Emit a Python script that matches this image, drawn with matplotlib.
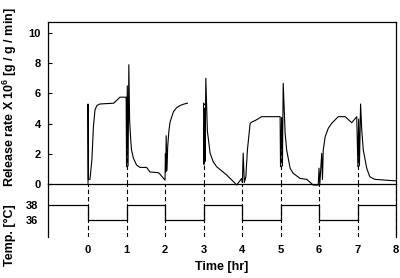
import numpy as np
import matplotlib
matplotlib.use('Agg')
import matplotlib.pyplot as plt

# release rate, first run (0 - 2.6 hr)
time_a = [0.00, 0.00, 0.01, 0.03, 0.05, 0.10, 0.14, 0.18, 0.23, 0.31, 0.66, 0.73, 0.83,
          0.99, 1.00, 1.02, 1.04, 1.06, 1.08, 1.11, 1.13, 1.18, 1.26, 1.35, 1.52, 1.61,
          1.83, 1.87, 2.00, 2.01, 2.02, 2.03, 2.05, 2.07, 2.10, 2.13, 2.22, 2.30, 2.39,
          2.50, 2.58]
rate_a = [0.05, 5.3, 0.3, 0.3, 0.3, 1.6, 3.8, 4.9, 5.2, 5.3, 5.35, 5.5, 5.75,
          5.75, 1.15, 6.5, 1.2, 7.9, 4.2, 2.9, 2.25, 1.7, 1.26, 1.1, 1.1, 0.8,
          0.75, 0.65, 0.26, 2.0, 0.8, 3.2, 0.9, 2.5, 3.5, 4.1, 4.8, 5.05, 5.2,
          5.3, 5.35]

# release rate, second run (3 - 8 hr)
time_b = [3.00, 3.01, 3.03, 3.04, 3.06, 3.10, 3.13, 3.17, 3.25, 3.34, 3.60, 3.82, 3.86,
          3.99, 4.01, 4.03, 4.06, 4.10, 4.14, 4.21, 4.25, 4.34, 4.51, 4.99,
          5.00, 5.03, 5.05, 5.07, 5.12, 5.16, 5.25, 5.33, 5.51, 5.68, 5.85, 5.98,
          6.00, 6.02, 6.07, 6.09, 6.11, 6.16, 6.24, 6.33, 6.50, 6.68, 6.85, 6.98,
          7.01, 7.03, 7.05, 7.08, 7.11, 7.15, 7.24, 7.32, 7.45, 7.93, 8.00]
rate_b = [5.35, 1.3, 4.8, 1.5, 7.0, 3.5, 2.9, 2.05, 1.48, 1.15, 0.6, 0.05, -0.07,
          0.37, 0.1, 2.05, 0.1, 0.5, 2.25, 4.0, 4.1, 4.2, 4.46, 4.46,
          1.15, 4.4, 1.2, 6.67, 3.36, 2.25, 1.04, 0.71, 0.37, 0.31, -0.07, -0.07,
          1.05, -0.05, 2.03, 0.3, 2.25, 3.13, 3.69, 4.02, 4.46, 4.46, 4.06, 4.46,
          1.15, 4.3, 1.2, 5.3, 3.58, 2.25, 1.04, 0.48, 0.31, 0.22, 0.22]

# temperature program
hours = [-1, 0, 1, 2, 3, 4, 5, 6, 7, 8]
temps = [38, 36, 38, 36, 38, 36, 38, 36, 38, 38]

plt.rcParams['font.family'] = 'Liberation Sans'
plt.rcParams['font.weight'] = 'bold'
plt.rcParams['axes.labelweight'] = 'bold'
plt.rcParams['mathtext.fontset'] = 'custom'
plt.rcParams['mathtext.bf'] = 'Liberation Sans:bold'
plt.rcParams['mathtext.rm'] = 'Liberation Sans:bold'

fig = plt.figure(figsize=(4, 2.78), dpi=100)
axt = fig.add_axes([0.12, 0.1475, 0.87, 0.1906])
ax = fig.add_axes([0.12, 0.338, 0.87, 0.583], sharex=axt)
ax.patch.set_visible(False)
axt.patch.set_visible(False)

xmin, xmax = -1.04, 8.0

ax.plot(time_a, rate_a, color='black', lw=0.8, clip_on=False)
ax.plot(time_b, rate_b, color='black', lw=0.8, clip_on=False)
ax.set_xlim(xmin, xmax)
ax.set_ylim(0, 10.73)
ax.set_yticks([0, 2, 4, 6, 8, 10])
ax.tick_params(axis='y', direction='in', length=3, width=0.8, labelsize=8, pad=5)
ax.tick_params(axis='x', length=0, labelbottom=False)
for s in ax.spines.values():
    s.set_linewidth(0.9)
    s.set_color('black')

# dashed guides at each hour
all_t = np.array(time_a + time_b)
all_r = np.array(rate_a + rate_b)
for h in range(0, 9):
    if h % 2 == 1:
        top = np.interp(h - 0.01, all_t, all_r)
        ax.plot([h, h], [0, top], color='black', lw=0.8, ls=(0, (4, 2.5)))
    axt.axvline(h, color='black', lw=0.8, ls=(0, (4, 2.5)))

step_t = [xmin] + hours[1:]
axt.step(step_t, temps, where='post', color='black', lw=0.9)
axt.set_ylim(33.73, 40.8)
axt.set_yticks([36, 38])
axt.set_xticks(range(0, 9))
axt.tick_params(axis='y', length=0, labelsize=8, pad=7)
axt.tick_params(axis='x', length=0, labelsize=8, pad=6)
axt.spines['top'].set_visible(False)
axt.spines['bottom'].set_visible(False)
for s in ('left', 'right'):
    axt.spines[s].set_linewidth(0.9)
axt.set_xlabel('Time [hr]', fontsize=9, fontweight='bold', labelpad=4)

fig.text(0.025, 0.65, r'Release rate X 10$^{6}$ [g / g / min]', rotation=90,
         ha='center', va='center', fontsize=9, fontweight='bold')
fig.text(0.025, 0.155, 'Temp. [°C]', rotation=90, ha='center', va='center',
         fontsize=9, fontweight='bold')

fig.savefig('out.png', dpi=100)
